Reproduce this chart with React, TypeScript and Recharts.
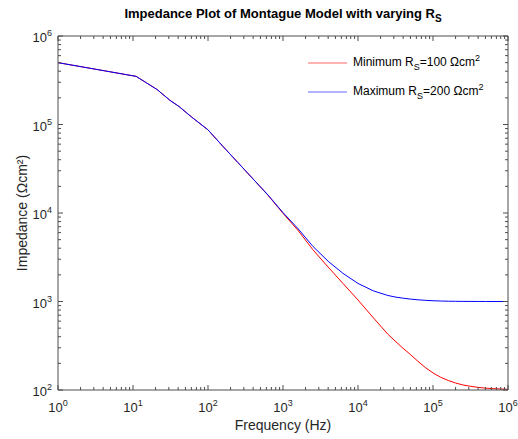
import { LineChart, Line, XAxis, YAxis, Label } from "recharts";

// frequencies (Hz) and |Z| (Ohm cm^2)
const freqs = [
  1, 11, 21, 31, 41, 60, 100, 160, 250, 400, 630, 1000, 1600, 2500, 4000,
  6300, 10000, 16000, 25000, 32000, 40000, 50000, 63000, 80000, 100000,
  125000, 160000, 200000, 250000, 320000, 400000, 500000, 630000, 1000000,
];
const zMin = [
  5.0e5, 3.5e5, 2.48e5, 1.88e5, 1.6e5, 1.22e5, 8.7e4, 5.6e4, 3.72e4, 2.42e4,
  1.59e4, 9.9e3, 6.3e3, 3.85e3, 2.45e3, 1.6e3, 1040, 655, 427, 351, 295, 252,
  211, 178, 156, 140, 128, 120, 114, 110, 107, 105, 103.6, 101.8,
];
const zMax = [
  5.0e5, 3.5e5, 2.48e5, 1.88e5, 1.6e5, 1.22e5, 8.7e4, 5.6e4, 3.72e4, 2.42e4,
  1.6e4, 1.01e4, 6.6e3, 4.2e3, 2.85e3, 2.08e3, 1600, 1320, 1170, 1120, 1090,
  1065, 1045, 1030, 1020, 1013, 1008, 1005, 1003, 1002, 1001, 1001, 1000, 1000,
];

const seriesKeys = ["zMin", "zMax"];
const seriesLabels = ["Minimum", "Maximum"];
const rsValues = [100, 200];
const COLORS = ["#ff0000", "#0000ff"];

const xDecades = [1, 10, 100, 1000, 10000, 100000, 1000000];
const yDecades = [100, 1000, 10000, 100000, 1000000];

const minorTicks = (decades: number[]) => {
  const out: number[] = [];
  decades.forEach((d, i) => {
    out.push(d);
    if (i < decades.length - 1) for (let m = 2; m <= 9; m++) out.push(d * m);
  });
  return out;
};
const xTicks = minorTicks(xDecades);
const yTicks = minorTicks(yDecades);

const data = freqs.map((f, i) => ({ f, zMin: zMin[i], zMax: zMax[i] }));

const AXIS = "#4d4d4d";
const TXT = "#262626";
const FONT = "'Liberation Sans', Arial, sans-serif";

const isMajor = (v: number) => Math.abs(Math.log10(v) - Math.round(Math.log10(v))) < 1e-9;

const Pow = ({ x, y, v, anchor }: any) => (
  <text x={x} y={y} textAnchor={anchor} fill={TXT} fontSize={13} fontFamily={FONT}>
    <tspan>10</tspan>
    <tspan dy={-6} fontSize={9}>
      {Math.round(Math.log10(v))}
    </tspan>
  </text>
);

const BottomTick = ({ x, y, payload }: any) => {
  const major = isMajor(payload.value);
  return (
    <g>
      <line x1={x} x2={x} y1={y} y2={y - (major ? 5 : 3)} stroke={AXIS} />
      {major && <Pow x={x} y={y + 22} v={payload.value} anchor="middle" />}
    </g>
  );
};
const TopTick = ({ x, y, payload }: any) => (
  <line x1={x} x2={x} y1={y} y2={y + (isMajor(payload.value) ? 5 : 3)} stroke={AXIS} />
);
const LeftTick = ({ x, y, payload }: any) => {
  const major = isMajor(payload.value);
  return (
    <g>
      <line x1={x} x2={x + (major ? 5 : 3)} y1={y} y2={y} stroke={AXIS} />
      {major && <Pow x={x - 6} y={y + 6} v={payload.value} anchor="end" />}
    </g>
  );
};
const RightTick = ({ x, y, payload }: any) => (
  <line x1={x} x2={x - (isMajor(payload.value) ? 5 : 3)} y1={y} y2={y} stroke={AXIS} />
);

const LegendBox = () => (
  <div
    style={{
      position: "absolute",
      left: 308,
      top: 48,
      fontFamily: FONT,
      fontSize: 12,
      color: "#000",
    }}
  >
    {seriesLabels.map((s, i) => (
      <div key={s} style={{ display: "flex", alignItems: "center", height: 29 }}>
        <svg width={44} height={4} style={{ marginRight: 1 }}>
          <line x1={0} x2={39} y1={2} y2={2} stroke={COLORS[i]} strokeOpacity={0.6} />
        </svg>
        <span>
          {s} R<sub style={{ fontSize: 9, verticalAlign: -4 }}>S</sub>={rsValues[i]} Ωcm
          <sup style={{ fontSize: 9, verticalAlign: 5 }}>2</sup>
        </span>
      </div>
    ))}
  </div>
);

export default function App() {
  return (
    <div style={{ position: "absolute", left: 0, top: 0, width: 518, height: 439, background: "#fff" }}>
      <div
        style={{
          position: "absolute",
          left: 58,
          width: 450,
          top: 6,
          textAlign: "center",
          fontFamily: FONT,
          fontWeight: "bold",
          fontSize: 13,
          color: "#000",
        }}
      >
        Impedance Plot of Montague Model with varying R
        <sub style={{ fontSize: 10, verticalAlign: -4 }}>S</sub>
      </div>
      <LineChart
        width={518}
        height={439}
        data={data}
        margin={{ top: 35, right: 9, bottom: 0, left: 0 }}
      >
        <XAxis
          dataKey="f"
          type="number"
          scale="log"
          domain={[1, 1e6]}
          allowDataOverflow
          ticks={xTicks}
          interval={0}
          tick={BottomTick}
          tickLine={false}
          tickSize={0}
          tickMargin={0}
          height={49}
          axisLine={{ stroke: AXIS }}
        >
          <Label
            content={() => (
              <text x={283} y={430} textAnchor="middle" fill={TXT} fontSize={14} fontFamily={FONT}>
                Frequency (Hz)
              </text>
            )}
          />
        </XAxis>
        <XAxis
          xAxisId="top"
          orientation="top"
          dataKey="f"
          type="number"
          scale="log"
          domain={[1, 1e6]}
          allowDataOverflow
          ticks={xTicks}
          interval={0}
          tick={TopTick}
          tickLine={false}
          tickSize={0}
          tickMargin={0}
          height={1}
          axisLine={{ stroke: AXIS }}
        />
        <YAxis
          type="number"
          scale="log"
          domain={[100, 1e6]}
          allowDataOverflow
          ticks={yTicks}
          interval={0}
          tick={LeftTick}
          tickLine={false}
          tickSize={0}
          tickMargin={0}
          width={58}
          axisLine={{ stroke: AXIS }}
        >
          <Label
            content={() => (
              <text
                x={27}
                y={213}
                transform="rotate(-90, 27, 213)"
                textAnchor="middle"
                fill={TXT}
                fontSize={14}
                fontFamily={FONT}
              >
                Impedance (Ωcm²)
              </text>
            )}
          />
        </YAxis>
        <YAxis
          yAxisId="right"
          orientation="right"
          type="number"
          scale="log"
          domain={[100, 1e6]}
          allowDataOverflow
          ticks={yTicks}
          interval={0}
          tick={RightTick}
          tickLine={false}
          tickSize={0}
          tickMargin={0}
          width={1}
          axisLine={{ stroke: AXIS }}
        />
        {seriesKeys.map((k, i) => (
          <Line
            key={k}
            dataKey={k}
            name={seriesLabels[i]}
            xAxisId={i === 0 ? "top" : 0}
            yAxisId={i === 0 ? "right" : 0}
            stroke={COLORS[i]}
            strokeWidth={1}
            dot={false}
            type="linear"
            isAnimationActive={false}
          />
        ))}
      </LineChart>
      <LegendBox />
    </div>
  );
}
